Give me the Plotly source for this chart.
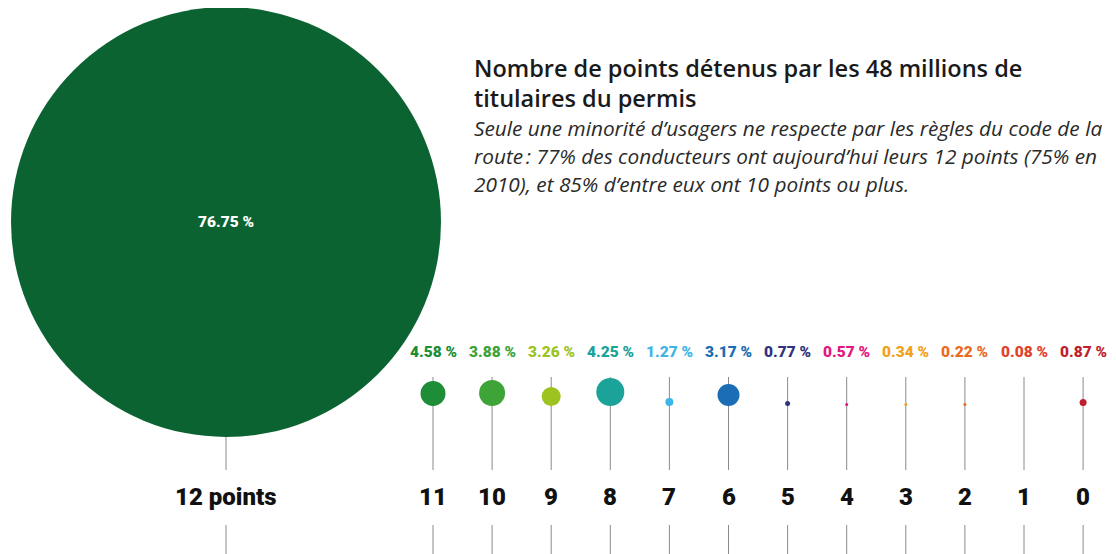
import plotly.graph_objects as go

# ---- data ----
points = [12, 11, 10, 9, 8, 7, 6, 5, 4, 3, 2, 1, 0]
shares = [76.75, 4.58, 3.88, 3.26, 4.25, 1.27, 3.17, 0.77, 0.57, 0.34, 0.22, 0.08, 0.87]
point_labels = ["12 points", "11", "10", "9", "8", "7", "6", "5", "4", "3", "2", "1", "0"]
title_lines = ["Nombre de points détenus par les 48 millions de", "titulaires du permis"]
subtitle_lines = [
    "Seule une minorité d\u2019usagers ne respecte par les règles du code de la",
    "route\u202f: 77% des conducteurs ont aujourd\u2019hui leurs 12 points (75% en",
    "2010), et 85% d\u2019entre eux ont 10 points ou plus.",
]

# ---- style ----
colors = ["#0b6331", "#1d8e37", "#3ea437", "#9cc31f", "#1ba39a", "#3db5e6", "#1b6db5",
          "#2f3380", "#e3177d", "#f1a11c", "#ec6a1f", "#e3422b", "#c01f2f"]
dot_diam = [430, 25, 26, 19, 28, 8, 22, 5, 3, 3, 3, 0, 7]
COND = "Roboto, sans-serif"
W, H = 1116, 554
OFF = 8  # default page body margin
big_x, big_y = 226, 222
x0, step = 433, 59.1
dot_bottom = 406

def xpos(i):
    return big_x if i == 0 else x0 + step * (i - 1)

fig = go.Figure()

# connector lines
lx, ly = [], []
for i in range(len(points)):
    x = xpos(i)
    top = big_y + dot_diam[0] / 2 if i == 0 else 377
    lx += [x, x, None, x, x, None]
    ly += [top, 470, None, 525, H, None]
fig.add_trace(go.Scatter(x=lx, y=ly, mode="lines", line=dict(color="#8a8a8a", width=1),
                         hoverinfo="skip", showlegend=False))

# big circle (12 points)
r = dot_diam[0] / 2
fig.add_shape(type="circle", xref="x", yref="y", x0=big_x - r, x1=big_x + r,
              y0=big_y - r, y1=big_y + r, fillcolor=colors[0], line=dict(width=0), layer="below")

# small dots
sx = [xpos(i) for i in range(1, len(points))]
sy = [dot_bottom - dot_diam[i] / 2 for i in range(1, len(points))]
fig.add_trace(go.Scatter(x=sx, y=sy, mode="markers",
                         marker=dict(size=dot_diam[1:], color=colors[1:], opacity=1, line=dict(width=0)),
                         text=[f"{p} points : {s} %" for p, s in zip(points[1:], shares[1:])],
                         hoverinfo="text", showlegend=False))

# percent labels
for i, (p, s) in enumerate(zip(points, shares)):
    txt = f"{s:.2f} %"
    if i == 0:
        fig.add_annotation(x=big_x, y=big_y, text=txt, showarrow=False,
                           font=dict(family=COND, size=15.5, color="white", weight=900))
    else:
        fig.add_annotation(x=xpos(i), y=352, text=txt, showarrow=False,
                           font=dict(family=COND, size=15.5, color=colors[i], weight=900))
    fig.add_annotation(x=xpos(i), y=497, text=point_labels[i], showarrow=False,
                       font=dict(family=COND, size=24, color="#111", weight=900))

# title & subtitle
for k, t in enumerate(title_lines):
    fig.add_annotation(x=472, y=68 + 30 * k, text=t, showarrow=False, xanchor="left",
                       font=dict(family="Open Sans", size=23.5, color="#1a1a1a", weight=600))
for k, t in enumerate(subtitle_lines):
    fig.add_annotation(x=472, y=128 + 28 * k, text=f"<i>{t}</i>", showarrow=False, xanchor="left",
                       font=dict(family="Open Sans", size=20.8, color="#2a2a2a"))

fig.update_layout(width=W - OFF, height=H - OFF, margin=dict(l=0, r=0, t=0, b=0),
                  paper_bgcolor="white", plot_bgcolor="white",
                  xaxis=dict(range=[OFF, W], visible=False, fixedrange=True),
                  yaxis=dict(range=[H, OFF], visible=False, fixedrange=True))
fig.write_html("out.html")
